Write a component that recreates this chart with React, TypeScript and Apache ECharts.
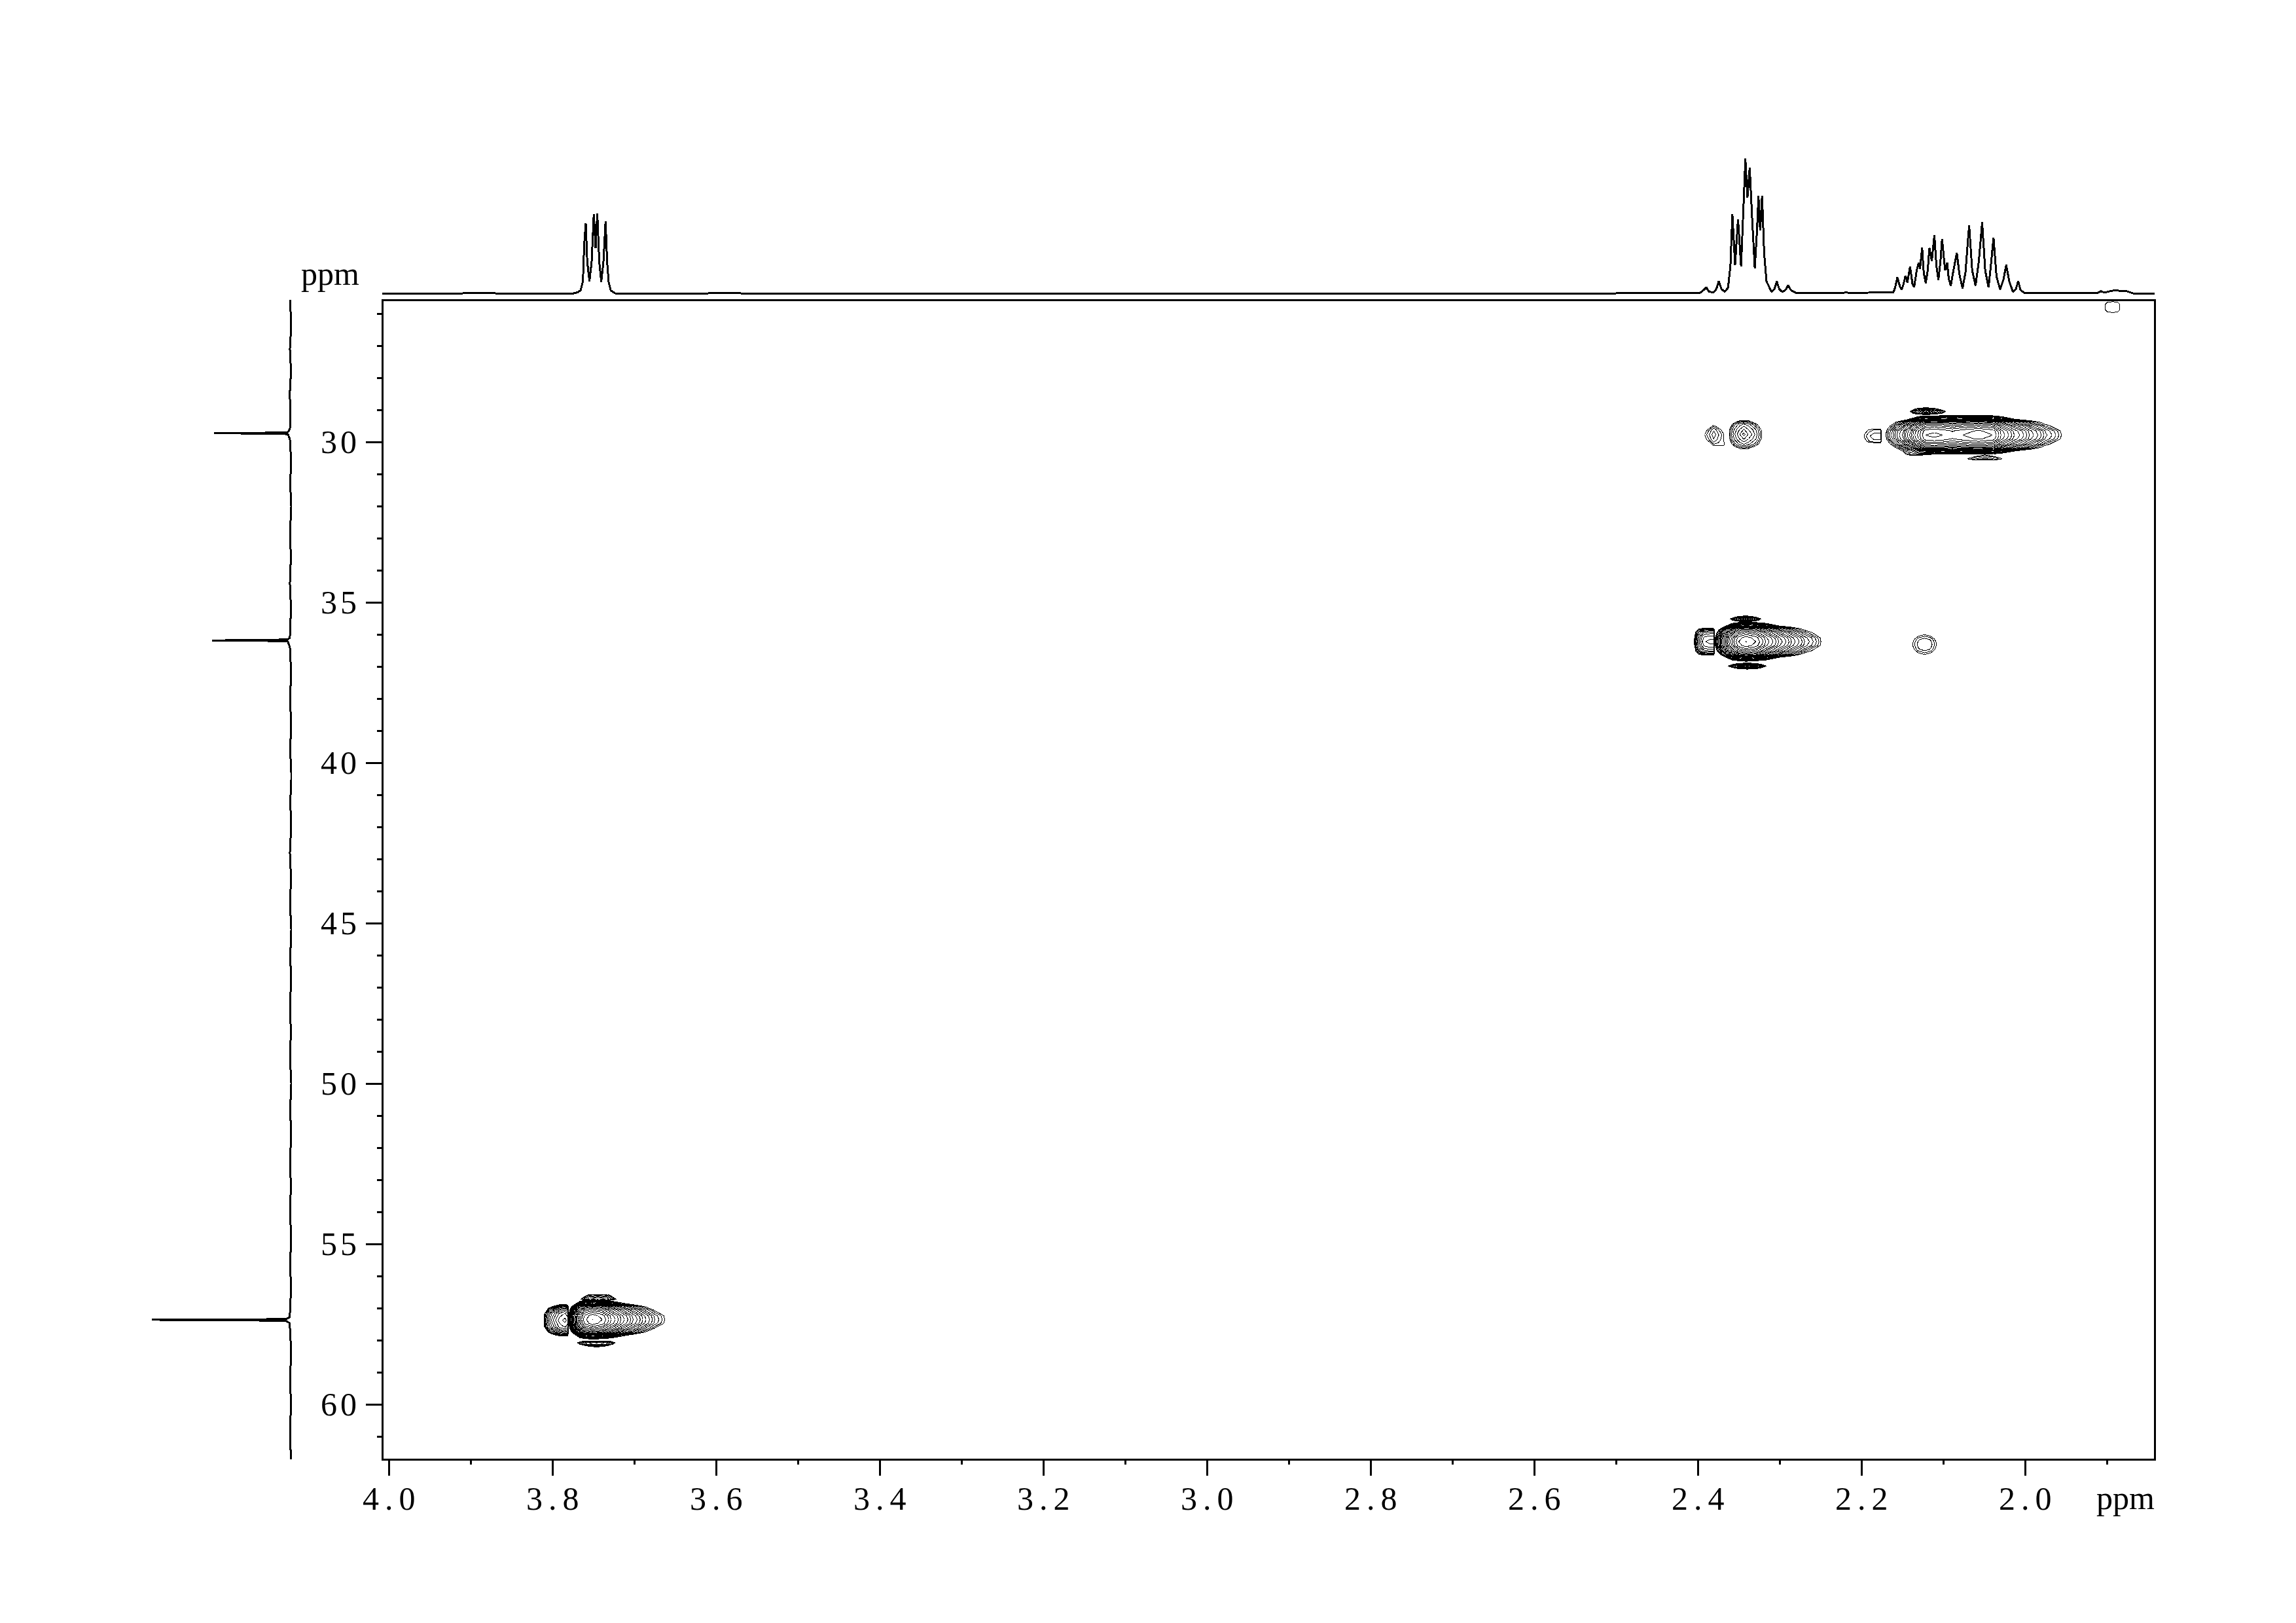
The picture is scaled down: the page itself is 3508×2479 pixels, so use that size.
import React, { useEffect, useRef } from "react";
import * as echarts from "echarts";

// Axis ticks, ppm
const f2MajorTicks = [4.0, 3.8, 3.6, 3.4, 3.2, 3.0, 2.8, 2.6, 2.4, 2.2, 2.0];
const f2MinorTicks = [3.9, 3.7, 3.5, 3.3, 3.1, 2.9, 2.7, 2.5, 2.3, 2.1, 1.9];
const f1MajorTicks = [30, 35, 40, 45, 50, 55, 60];
const f1MinorTicks = [26, 27, 28, 29, 31, 32, 33, 34, 36, 37, 38, 39, 41, 42, 43, 44, 46, 47, 48, 49, 51, 52, 53, 54, 56, 57, 58, 59, 61];

// 1H projection on top: [ppm, relative intensity]
const protonTrace = [
  [4.0082, 0], [3.91, 0], [3.9, 0.4], [3.89, 0.1], [3.88, 0.3], [3.87, 0],
  [3.7741, 0], [3.7688, 0.8], [3.7656, 2.4], [3.7629, 8.9], [3.7613, 36.5], [3.7594, 51.9], [3.7576, 23.5], [3.7549, 8.9],
  [3.7522, 23.5], [3.7496, 58.8], [3.7474, 33.5], [3.7453, 59.2], [3.7429, 23.5], [3.7405, 8.4], [3.7378, 23.5],
  [3.7352, 53.5], [3.7333, 23.5], [3.7314, 8.1], [3.7288, 2.1], [3.7234, 0],
  [3.61, 0], [3.6, 0.4], [3.59, 0.2], [3.58, 0.4], [3.57, 0], [2.5, 0], [2.49, 0.3], [2.47, 0.2], [2.45, 0.4], [2.43, 0.1],
  [2.3999, 0], [2.3959, 0.8], [2.3897, 4.4], [2.3865, 1.1], [2.3807, 0.8], [2.3775, 3.2], [2.3746, 8.9], [2.3713, 3.2], [2.3673, 1.1],
  [2.3632, 4.1], [2.3603, 20.3], [2.3579, 58.8], [2.3546, 21.1], [2.351, 55.1], [2.3473, 19.9], [2.3449, 55.9], [2.342, 100],
  [2.3395, 70.8], [2.3367, 93.5], [2.3338, 55.9], [2.3305, 18.6], [2.3277, 47.8], [2.326, 72.4], [2.324, 46.5], [2.3216, 72.4],
  [2.3191, 30], [2.3162, 8.9], [2.3101, 1.1], [2.3065, 3.2], [2.3036, 8.9], [2.3007, 3.2], [2.2971, 1.1], [2.293, 2.4], [2.2897, 6],
  [2.2865, 2.4], [2.2795, 0], [2.24, 0.2], [2.22, 0.5], [2.2, 0.4], [2.18, 0.6],
  [2.1612, 0.5], [2.1587, 4.9], [2.1563, 11.8], [2.153, 4.9], [2.151, 2.8], [2.1485, 7.3], [2.1464, 13.1], [2.144, 8.1], [2.1407, 19.9],
  [2.1379, 7.3], [2.1358, 4.4], [2.1326, 17], [2.1301, 22.7], [2.1285, 18.3], [2.126, 33.9], [2.124, 15.4], [2.1216, 7.6], [2.1191, 17],
  [2.1171, 33.7], [2.1142, 23.8], [2.111, 43.3], [2.1085, 20.3], [2.1061, 10], [2.1036, 23.5], [2.1016, 40.5], [2.0979, 17], [2.0954, 22.7],
  [2.0934, 10.5], [2.0909, 5.7], [2.0877, 17], [2.0836, 30], [2.0803, 13.8], [2.0766, 3.7], [2.073, 15.4], [2.0685, 50.7], [2.0648, 17],
  [2.0607, 5.7], [2.0567, 23.5], [2.0526, 52.7], [2.0489, 17], [2.0448, 4.4], [2.0415, 23.5], [2.0387, 41.3], [2.035, 12.2], [2.0306, 2.8],
  [2.0265, 10.5], [2.0232, 21.1], [2.0195, 8.9], [2.015, 1.1], [2.0114, 3.2], [2.0085, 8.9], [2.0057, 2.4], [1.9999, 0], [1.97, 0.1], [1.95, 0.3],
  [1.9122, 0.2], [1.9073, 1.6], [1.9032, 0.5], [1.8959, 1.6], [1.8893, 2.4], [1.8828, 1.5], [1.8755, 1.5], [1.8681, 0], [1.8418, 0],
];

// 13C projection on the left: [ppm, relative intensity]
const carbonTrace = [
  [25.57, 0.3], [26.4, -0.4], [27.1, 0.5], [27.8, -0.3], [28.5, 0.6], [29.1, 0.1], [29.6, 0.5], [29.69, 2], [29.71, 20], [29.72, 55.2], [29.735, 20], [29.75, 2],
  [29.9, 0.5], [30.6, -0.4], [31.3, 0.3], [32, -0.5], [32.8, 0.4], [33.6, -0.2], [34.4, 0.5], [35.2, -0.3], [35.9, 0.4], [36.1, 0.5], [36.15, 2], [36.17, 20], [36.18, 56.6], [36.195, 20], [36.21, 2],
  [36.4, 0.5], [37.2, -0.4], [38, 0.4], [38.8, -0.4], [39.6, 0.3], [40.4, -0.6], [41.2, 0.2], [42, -0.4], [42.8, 0.5], [43.6, -0.3], [44.4, 0.4], [45.2, -0.5],
  [46, 0.2], [46.8, -0.3], [47.6, 0.4], [48.4, -0.2], [49.2, 0.4], [50, -0.5], [50.8, 0.3], [51.6, -0.4], [52.4, 0.4], [53.2, -0.2], [54, 0.4], [54.8, -0.4],
  [55.6, 0.3], [56.4, -0.3], [57.1, 0.4], [57.28, 0.8], [57.33, 3], [57.35, 30], [57.36, 100], [57.375, 30], [57.4, 3], [57.46, 0.8], [57.7, 0.3], [58.4, -0.4], [59.2, 0.4], [60, -0.3], [60.8, 0.4], [61.71, -0.2],
];

// Contour levels of the 2D plot
const contourLevels = [1, 1.25, 1.56, 1.95, 2.44, 3.05, 3.81, 4.77, 5.96, 7.45, 9.31, 11.6, 14.6, 18.2, 22.7, 28.4, 35.5, 44.4, 55.5, 69.4, 86.7, 108];

// Cross peak at 2.06 / 29.8
const peakAF2 = [2.174, 2.169, 2.161, 2.149, 2.14, 2.13, 2.122, 2.111, 2.101, 2.089, 2.076, 2.057, 2.039, 2.029, 2.014, 1.994, 1.975, 1.956, 1.95];
const peakAF1 = [29.1, 29.18, 29.29, 29.38, 29.49, 29.65, 29.78, 29.9, 30.06, 30.17, 30.27, 30.38, 30.46];
const peakAZ = [
  [0, 0, 0, 0, 0, 0, 0, 0, 0, 0, 0, 0, 0, 0, 0, 0, 0, 0, 0],
  [0, 0.01, 0.03, 0.09, 0.22, 0.55, 0.94, 1.01, 1.05, 1.05, 1.1, 1.1, 1.05, 0.6, 0.21, 0.08, 0.03, 0.01, 0],
  [0.02, 0.07, 0.18, 0.48, 1.2, 3, 5.1, 5.5, 5.1, 4.5, 5.2, 6, 5.1, 2.5, 1.1, 0.42, 0.16, 0.06, 0.02],
  [0.07, 0.29, 0.72, 1.9, 4.8, 12, 21, 22, 21, 18, 21, 24, 20, 10, 4.6, 1.7, 0.62, 0.24, 0.07],
  [0.14, 0.56, 1.4, 3.8, 9.4, 24, 41, 43, 41, 36, 41, 47, 40, 20, 8.9, 3.3, 1.2, 0.48, 0.14],
  [0.27, 1.1, 2.7, 7.2, 18, 45, 78, 83, 78, 68, 78, 90, 77, 38, 17, 6.3, 2.3, 0.92, 0.27],
  [0.3, 1.2, 3, 8, 20, 50, 87, 92, 87, 76, 87, 100, 86, 42, 19, 7, 2.6, 1.02, 0.3],
  [0.27, 1.1, 2.7, 7.2, 18, 45, 78, 83, 78, 68, 78, 90, 77, 38, 17, 6.3, 2.3, 0.92, 0.27],
  [0.14, 0.56, 1.4, 3.8, 9.4, 24, 41, 43, 41, 36, 41, 47, 40, 20, 8.9, 3.3, 1.2, 0.48, 0.14],
  [0.07, 0.29, 0.72, 1.9, 4.8, 12, 21, 22, 21, 18, 21, 24, 20, 10, 4.6, 1.7, 0.62, 0.24, 0.07],
  [0.02, 0.07, 0.18, 1.1, 2.4, 4, 5.1, 5.5, 5.1, 4.5, 5.2, 6, 5.1, 2.5, 1.1, 0.42, 0.16, 0.06, 0.02],
  [0, 0.01, 0.03, 0.6, 1.6, 1.8, 1.2, 0.95, 0.7, 0.6, 0.6, 0.5, 0.5, 0.4, 0.21, 0.08, 0.03, 0.01, 0],
  [0, 0, 0, 0, 0, 0, 0, 0, 0, 0, 0, 0, 0, 0, 0, 0, 0, 0, 0],
];

const lobeATopF2 = [2.1454, 2.1407, 2.1318, 2.1213, 2.1104, 2.0969, 2.093];
const lobeATopF1 = [28.87, 28.926, 28.98, 29.04, 29.1, 29.14, 29.2];
const lobeATopZ = [
  [0, 0, 0, 0, 0, 0, 0],
  [0, 0, 0.5, 1.05, 0.5, 0, 0],
  [0, 0.3, 1.6, 3, 1.6, 0.3, 0],
  [0, 1, 3, 6.2, 3, 1, 0],
  [0, 0.5, 1.9, 3.5, 1.9, 0.5, 0],
  [0, 0, 0.7, 1.05, 0.7, 0, 0],
  [0, 0, 0, 0, 0, 0, 0],
];

const lobeABottomF2 = [2.0756, 2.0705, 2.06, 2.0492, 2.0387, 2.0279, 2.0232];
const lobeABottomF1 = [30.35, 30.4, 30.47, 30.52, 30.56, 30.59];
const lobeABottomZ = [
  [0, 0, 0, 0, 0, 0, 0],
  [0, 0, 0.4, 1.05, 0.4, 0, 0],
  [0, 0.6, 1.3, 1.5, 1.3, 0.6, 0],
  [0, 1, 1.6, 2.1, 1.6, 1, 0],
  [0, 0.1, 1.1, 1.2, 1.1, 0.1, 0],
  [0, 0, 0, 0, 0, 0, 0],
];

const sideALeftF2 = [2.2016, 2.1965, 2.1911, 2.1849, 2.1779, 2.1764, 2.1752];
const sideALeftF1 = [29.48, 29.63, 29.81, 29.98, 30.1];
const sideALeftZ = [
  [0, 0, 0, 0, 0, 0, 0],
  [0, 0.7, 1.1, 1.3, 1.3, 1.3, 0],
  [0, 1.1, 1.5, 1.8, 1.8, 1.8, 0],
  [0, 0.75, 1.2, 1.45, 1.45, 1.45, 0],
  [0, 0, 0, 0, 0, 0, 0],
];

const dotF2 = [2.055, 2.0531, 2.051];
const dotF1 = [29.05, 29.06, 29.07];
const dotZ = [
  [0, 0, 0],
  [0, 1.02, 0],
  [0, 0, 0],
];

// Cross peaks at 2.38 and 2.34 / 29.8
const sideB1F2 = [2.3955, 2.3916, 2.3858, 2.3807, 2.3749, 2.3683, 2.3644];
const sideB1F1 = [29.38, 29.48, 29.62, 29.77, 29.93, 30.1, 30.17];
const sideB1Z = [
  [0, 0, 0, 0, 0, 0, 0],
  [0, 0, 0.5, 1.05, 0.5, 0, 0],
  [0, 0.7, 1.3, 1.9, 1.3, 0.7, 0],
  [0, 1.02, 1.6, 2.2, 1.6, 1.02, 0],
  [0, 0.8, 1.3, 1.9, 1.4, 1.02, 0],
  [0, 0, 0.5, 1.1, 1.1, 1.05, 0],
  [0, 0, 0, 0, 0, 0, 0],
];

const sideB2F2 = [2.3652, 2.3613, 2.3555, 2.3489, 2.3439, 2.3385, 2.3295, 2.3226, 2.3187];
const sideB2F1 = [29.246, 29.33, 29.45, 29.61, 29.756, 29.9, 30.06, 30.2, 30.27];
const sideB2Z = [
  [0, 0, 0, 0, 0, 0, 0, 0, 0],
  [0, 0, 0.4, 1, 1.1, 1, 0.4, 0, 0],
  [0, 0.5, 1.4, 2.2, 2.6, 2.2, 1.2, 0.5, 0],
  [0, 1, 2, 3.1, 3.9, 3.1, 2, 1, 0],
  [0, 1.05, 2.3, 3.8, 5.2, 3.8, 2.3, 1.05, 0],
  [0, 1, 2, 3.1, 3.9, 3.1, 2, 1, 0],
  [0, 0.6, 1.4, 2.1, 2.5, 2.1, 1.4, 0.6, 0],
  [0, 0, 0.5, 1, 1.1, 1, 0.5, 0, 0],
  [0, 0, 0, 0, 0, 0, 0, 0, 0],
];

// Cross peak at 2.34 / 36.2
const peakCF2 = [2.3839, 2.3788, 2.3733, 2.3664, 2.3586, 2.35, 2.3412, 2.3295, 2.3160, 2.3005, 2.285, 2.2694, 2.2501, 2.2442];
const peakCF1 = [35.54, 35.62, 35.73, 35.82, 35.93, 36.1, 36.22, 36.34, 36.5, 36.61, 36.71, 36.82, 36.9];
const peakCZ = [
  [0, 0, 0, 0, 0, 0, 0, 0, 0, 0, 0, 0, 0, 0],
  [0, 0.01, 0.04, 0.15, 0.44, 0.96, 1.2, 0.96, 0.44, 0.19, 0.08, 0.03, 0.01, 0],
  [0.02, 0.06, 0.24, 0.84, 2.4, 5.2, 6.5, 5.2, 2.4, 1, 0.42, 0.18, 0.06, 0.02],
  [0.07, 0.25, 0.96, 3.4, 9.6, 21, 26, 21, 9.6, 4.1, 1.7, 0.72, 0.25, 0.07],
  [0.14, 0.49, 1.9, 6.6, 19, 41, 51, 41, 19, 8, 3.3, 1.4, 0.49, 0.14],
  [0.27, 0.95, 3.6, 13, 36, 78, 98, 78, 36, 15, 6.3, 2.7, 0.95, 0.27],
  [0.3, 1.05, 4, 14, 40, 87, 109, 87, 40, 17, 7, 3, 1.05, 0.3],
  [0.27, 0.95, 3.6, 13, 36, 78, 98, 78, 36, 15, 6.3, 2.7, 0.95, 0.27],
  [0.14, 0.49, 1.9, 6.6, 19, 41, 51, 41, 19, 8, 3.3, 1.4, 0.49, 0.14],
  [0.07, 0.25, 0.96, 3.4, 9.6, 21, 26, 21, 9.6, 4.1, 1.7, 0.72, 0.25, 0.07],
  [0.02, 0.06, 0.24, 0.84, 2.4, 5.2, 6.5, 5.2, 2.4, 1, 0.42, 0.18, 0.06, 0.02],
  [0, 0.01, 0.04, 0.15, 0.44, 0.96, 1.2, 0.96, 0.44, 0.19, 0.08, 0.03, 0.01, 0],
  [0, 0, 0, 0, 0, 0, 0, 0, 0, 0, 0, 0, 0, 0],
];

const lobeCTopF2 = [2.3652, 2.3606, 2.3509, 2.3419, 2.333, 2.3229, 2.3179];
const lobeCTopF1 = [35.368, 35.416, 35.464, 35.511, 35.559, 35.593, 35.64];
const lobeCTopZ = [
  [0, 0, 0, 0, 0, 0, 0],
  [0, 0, 0.5, 1.05, 0.5, 0, 0],
  [0, 0.3, 1.6, 3, 1.6, 0.3, 0],
  [0, 1, 3, 6.2, 3, 1, 0],
  [0, 0.5, 1.9, 3.5, 1.9, 0.5, 0],
  [0, 0, 0.7, 1.05, 0.7, 0, 0],
  [0, 0, 0, 0, 0, 0, 0],
];

const lobeCBottomF2 = [2.3679, 2.3633, 2.3516, 2.3396, 2.3276, 2.316, 2.3113];
const lobeCBottomF1 = [36.84, 36.885, 36.93, 36.98, 37.03, 37.075, 37.12];
const lobeCBottomZ = [
  [0, 0, 0, 0, 0, 0, 0],
  [0, 0, 0.5, 1.05, 0.5, 0, 0],
  [0, 0.3, 1.7, 3, 1.7, 0.3, 0],
  [0, 1, 3.2, 6.5, 3.2, 1, 0],
  [0, 0.3, 1.7, 3.2, 1.7, 0.3, 0],
  [0, 0, 0.6, 1.05, 0.6, 0, 0],
  [0, 0, 0, 0, 0, 0, 0],
];

const sideCLeftF2 = [2.409, 2.404, 2.3993, 2.3927, 2.3858, 2.3807, 2.3792];
const sideCLeftF1 = [35.73, 35.8, 35.91, 36.08, 36.22, 36.35, 36.52, 36.64, 36.71];
const sideCLeftZ = [
  [0, 0, 0, 0, 0, 0, 0],
  [0, 0, 0.6, 1.05, 1.1, 1.1, 0],
  [0, 0.6, 2, 4, 4.5, 4.5, 0],
  [0, 1, 3.5, 7.5, 8.5, 8.5, 0],
  [0, 1.2, 4, 9, 10, 10, 0],
  [0, 1, 3.5, 7.5, 8.5, 8.5, 0],
  [0, 0.6, 2, 4, 4.5, 4.5, 0],
  [0, 0, 0.6, 1.05, 1.1, 1.1, 0],
  [0, 0, 0, 0, 0, 0, 0],
];

const sideCRightF2 = [2.1423, 2.1376, 2.1306, 2.1229, 2.1151, 2.1085, 2.1042];
const sideCRightF1 = [35.93, 36.01, 36.15, 36.3, 36.46, 36.61, 36.68];
const sideCRightZ = [
  [0, 0, 0, 0, 0, 0, 0],
  [0, 0, 0.8, 1.05, 0.8, 0, 0],
  [0, 0.8, 1.5, 1.75, 1.5, 0.8, 0],
  [0, 1.05, 1.7, 1.9, 1.7, 1.05, 0],
  [0, 0.8, 1.5, 1.75, 1.5, 0.8, 0],
  [0, 0, 0.8, 1.05, 0.8, 0, 0],
  [0, 0, 0, 0, 0, 0, 0],
];

// Cross peak at 3.75 / 57.4
const peakDF2 = [3.7834, 3.7802, 3.7768, 3.772, 3.7666, 3.7608, 3.7514, 3.7394, 3.7288, 3.7154, 3.7021, 3.6888, 3.6754, 3.6634, 3.6594];
const peakDF1 = [56.67, 56.75, 56.86, 56.95, 57.06, 57.23, 57.35, 57.47, 57.63, 57.74, 57.84, 57.95, 58.03];
const peakDZ = [
  [0, 0, 0, 0, 0, 0, 0, 0, 0, 0, 0, 0, 0, 0, 0],
  [0, 0.01, 0.04, 0.15, 0.44, 0.88, 1.2, 0.96, 0.51, 0.23, 0.11, 0.05, 0.02, 0.01, 0],
  [0.02, 0.06, 0.24, 0.84, 2.4, 4.8, 6.5, 5.2, 2.8, 1.3, 0.58, 0.26, 0.12, 0.06, 0.02],
  [0.07, 0.25, 0.96, 3.4, 9.6, 19, 26, 21, 11, 5, 2.3, 1.1, 0.48, 0.25, 0.07],
  [0.14, 0.49, 1.9, 6.6, 19, 38, 51, 41, 22, 9.9, 4.6, 2.1, 0.94, 0.49, 0.14],
  [0.27, 0.95, 3.6, 13, 36, 72, 98, 78, 41, 19, 8.7, 4, 1.8, 0.95, 0.27],
  [0.3, 1.05, 4, 14, 40, 80, 109, 87, 46, 21, 9.7, 4.4, 2, 1.05, 0.3],
  [0.27, 0.95, 3.6, 13, 36, 72, 98, 78, 41, 19, 8.7, 4, 1.8, 0.95, 0.27],
  [0.14, 0.49, 1.9, 6.6, 19, 38, 51, 41, 22, 9.9, 4.6, 2.1, 0.94, 0.49, 0.14],
  [0.07, 0.25, 0.96, 3.4, 9.6, 19, 26, 21, 11, 5, 2.3, 1.1, 0.48, 0.25, 0.07],
  [0.02, 0.06, 0.24, 0.84, 2.4, 4.8, 6.5, 5.2, 2.8, 1.3, 0.58, 0.26, 0.12, 0.06, 0.02],
  [0, 0.01, 0.04, 0.15, 0.44, 0.88, 1.2, 0.96, 0.51, 0.23, 0.11, 0.05, 0.02, 0.01, 0],
  [0, 0, 0, 0, 0, 0, 0, 0, 0, 0, 0, 0, 0, 0, 0],
];

const lobeDTopF2 = [3.7688, 3.7656, 3.7554, 3.7448, 3.7328, 3.7221, 3.7189];
const lobeDTopF1 = [56.52, 56.57, 56.63, 56.68, 56.72, 56.755, 56.8];
const lobeDTopZ = [
  [0, 0, 0, 0, 0, 0, 0],
  [0, 0, 1.05, 1.1, 1.05, 0, 0],
  [0, 0.3, 1.7, 2.2, 1.7, 0.3, 0],
  [0, 0.6, 2.4, 3.4, 2.4, 0.6, 0],
  [0, 1, 2.8, 3.9, 2.8, 1, 0],
  [0, 0.4, 1.2, 1.6, 1.2, 0.4, 0],
  [0, 0, 0, 0, 0, 0, 0],
];

const lobeDBottomF2 = [3.7736, 3.7701, 3.7581, 3.7461, 3.7341, 3.7234, 3.7202];
const lobeDBottomF1 = [57.97, 58.02, 58.07, 58.116, 58.16, 58.205, 58.245];
const lobeDBottomZ = [
  [0, 0, 0, 0, 0, 0, 0],
  [0, 0.9, 1.05, 1.1, 1.05, 0.9, 0],
  [0, 1, 3.5, 5, 3.5, 1, 0],
  [0, 0.3, 3, 4.5, 3, 0.3, 0],
  [0, 0, 1.3, 2.2, 1.3, 0, 0],
  [0, 0, 0.3, 1.05, 0.3, 0, 0],
  [0, 0, 0, 0, 0, 0, 0],
];

const sideDLeftF2 = [3.8128, 3.8101, 3.8048, 3.7981, 3.7914, 3.7848, 3.7813, 3.7802];
const sideDLeftF1 = [56.817, 56.885, 57.0, 57.17, 57.375, 57.58, 57.75, 57.864, 57.93];
const sideDLeftZ = [
  [0, 0, 0, 0, 0, 0, 0, 0],
  [0, 0, 0, 0.3, 0.9, 1.05, 0.6, 0],
  [0, 0.3, 1.05, 2.2, 4, 5, 4, 0],
  [0, 0.9, 3, 6, 10, 12, 10, 0],
  [0, 1.2, 4, 8, 13, 16, 13, 0],
  [0, 0.9, 3, 6, 10, 12, 10, 0],
  [0, 0.3, 1.05, 2.2, 4, 5, 4, 0],
  [0, 0, 0, 0.3, 0.9, 1.05, 0.6, 0],
  [0, 0, 0, 0, 0, 0, 0, 0],
];

// Lone contour in the top right corner
const cornerF2 = [1.905, 1.9021, 1.893, 1.8844, 1.881];
const cornerF1 = [25.58, 25.63, 25.79, 25.95, 26.0];
const cornerZ = [
  [0, 0, 0, 0, 0],
  [0, 0.95, 1.1, 0.95, 0],
  [0, 1.05, 1.2, 1.05, 0],
  [0, 0.95, 1.1, 0.95, 0],
  [0, 0, 0, 0, 0],
];

const contourGrids = [
  [peakAF2, peakAF1, peakAZ], [lobeATopF2, lobeATopF1, lobeATopZ], [lobeABottomF2, lobeABottomF1, lobeABottomZ],
  [sideALeftF2, sideALeftF1, sideALeftZ], [dotF2, dotF1, dotZ], [sideB1F2, sideB1F1, sideB1Z], [sideB2F2, sideB2F1, sideB2Z],
  [peakCF2, peakCF1, peakCZ], [lobeCTopF2, lobeCTopF1, lobeCTopZ], [lobeCBottomF2, lobeCBottomF1, lobeCBottomZ],
  [sideCLeftF2, sideCLeftF1, sideCLeftZ], [sideCRightF2, sideCRightF1, sideCRightZ],
  [peakDF2, peakDF1, peakDZ], [lobeDTopF2, lobeDTopF1, lobeDTopZ], [lobeDBottomF2, lobeDBottomF1, lobeDBottomZ], [sideDLeftF2, sideDLeftF1, sideDLeftZ],
  [cornerF2, cornerF1, cornerZ],
] as [number[], number[], number[][]][];

// Marching squares over an intensity table: contour lines, gaps marked with NaN.
function contourLines(xs: number[], ys: number[], z: number[][], levels: number[]) {
  const out: number[][] = [];
  const seg = (a: number[], b: number[]) => {
    out.push(a, b, [NaN, NaN]);
  };
  for (const L of levels) {
    for (let i = 0; i + 1 < ys.length; i++) {
      for (let j = 0; j + 1 < xs.length; j++) {
        const a = z[i][j], b = z[i][j + 1], c = z[i + 1][j + 1], d = z[i + 1][j];
        const code = (a >= L ? 8 : 0) | (b >= L ? 4 : 0) | (c >= L ? 2 : 0) | (d >= L ? 1 : 0);
        if (code === 0 || code === 15) continue;
        const top = () => [xs[j] + ((L - a) / (b - a)) * (xs[j + 1] - xs[j]), ys[i]];
        const bottom = () => [xs[j] + ((L - d) / (c - d)) * (xs[j + 1] - xs[j]), ys[i + 1]];
        const left = () => [xs[j], ys[i] + ((L - a) / (d - a)) * (ys[i + 1] - ys[i])];
        const right = () => [xs[j + 1], ys[i] + ((L - b) / (c - b)) * (ys[i + 1] - ys[i])];
        switch (code) {
          case 1: case 14: seg(left(), bottom()); break;
          case 2: case 13: seg(bottom(), right()); break;
          case 3: case 12: seg(left(), right()); break;
          case 4: case 11: seg(top(), right()); break;
          case 6: case 9: seg(top(), bottom()); break;
          case 7: case 8: seg(left(), top()); break;
          case 5: seg(left(), top()); seg(bottom(), right()); break;
          case 10: seg(left(), bottom()); seg(top(), right()); break;
        }
      }
    }
  }
  return out;
}

const FONT = '"Liberation Serif", serif';
const F2_MIN = 1.8418, F2_MAX = 4.0082, F1_MIN = 25.565, F1_MAX = 61.708;

export default function App() {
  const ref = useRef<HTMLDivElement>(null);
  useEffect(() => {
    const chart = echarts.init(ref.current!, undefined, { renderer: "svg" });
    const contours: number[][] = [];
    for (const [xs, ys, z] of contourGrids) contours.push(...contourLines(xs, ys, z, contourLevels));
    const f2Common = { type: "value", gridIndex: 0, min: F2_MIN, max: F2_MAX, inverse: true, position: "bottom", axisLine: { show: false }, splitLine: { show: false } };
    const f1Common = { type: "value", gridIndex: 0, min: F1_MIN, max: F1_MAX, inverse: true, position: "left", axisLine: { show: false }, splitLine: { show: false } };
    chart.setOption({
      animation: false,
      backgroundColor: "#fff",
      tooltip: { show: false },
      grid: [
        { left: 584, top: 458, width: 2708, height: 1771, show: true, borderColor: "#000", borderWidth: 3, backgroundColor: "transparent" },
        { left: 584, top: 242.3, width: 2708, height: 205.7 },
        { left: 232, top: 458, width: 212, height: 1771 },
      ],
      xAxis: [
        { ...f2Common, axisTick: { show: true, length: 25, inside: false, customValues: f2MajorTicks, lineStyle: { color: "#000", width: 3 } },
          axisLabel: { show: true, customValues: f2MajorTicks, margin: 35, padding: [0, 0, 0, 9], color: "#000", fontFamily: FONT, fontSize: 50, formatter: (v: number) => v.toFixed(1) } },
        { ...f2Common, axisTick: { show: true, length: 8, customValues: f2MinorTicks, lineStyle: { color: "#000", width: 3 } }, axisLabel: { show: false } },
        { type: "value", gridIndex: 1, min: F2_MIN, max: F2_MAX, inverse: true, show: false },
        { type: "value", gridIndex: 2, min: 0, max: 100, inverse: true, show: false },
      ],
      yAxis: [
        { ...f1Common, axisTick: { show: true, length: 25, customValues: f1MajorTicks, lineStyle: { color: "#000", width: 3 } },
          axisLabel: { show: true, customValues: f1MajorTicks, margin: 34, color: "#000", fontFamily: FONT, fontSize: 50, formatter: (v: number) => String(v) } },
        { ...f1Common, axisTick: { show: true, length: 8, customValues: f1MinorTicks, lineStyle: { color: "#000", width: 3 } }, axisLabel: { show: false } },
        { type: "value", gridIndex: 1, min: 0, max: 100, show: false },
        { type: "value", gridIndex: 2, min: F1_MIN, max: F1_MAX, inverse: true, show: false },
      ],
      series: [
        { type: "line", name: "contours", xAxisIndex: 0, yAxisIndex: 0, data: contours, showSymbol: false, symbol: "none", silent: true, connectNulls: false, lineStyle: { color: "#000", width: 1 } },
        { type: "line", name: "1H", xAxisIndex: 2, yAxisIndex: 2, data: protonTrace, showSymbol: false, symbol: "none", silent: true, clip: false, lineStyle: { color: "#000", width: 3 } },
        { type: "line", name: "13C", xAxisIndex: 3, yAxisIndex: 3, data: carbonTrace.map(([ppm, v]) => [v, ppm]), showSymbol: false, symbol: "none", silent: true, clip: false, lineStyle: { color: "#000", width: 3 } },
      ],
      graphic: [
        { type: "text", x: 460, y: 418, silent: true, style: { text: "ppm", font: `50px ${FONT}`, fill: "#000", align: "left", verticalAlign: "middle" } },
        { type: "text", x: 3203, y: 2288, silent: true, style: { text: "ppm", font: `50px ${FONT}`, fill: "#000", align: "left", verticalAlign: "middle" } },
      ],
    });
    ref.current!.querySelectorAll("text").forEach((t) => {
      const s = t.textContent || "";
      if (s.includes(".")) t.style.letterSpacing = "9px";
      else if (/^\d+$/.test(s)) t.style.letterSpacing = "5px";
    });
    return () => chart.dispose();
  }, []);
  return (
    <>
      <style>{`#nmr svg path, #nmr svg rect { shape-rendering: crispEdges; } body { margin: 0; overflow: hidden; }`}</style>
      <div id="nmr" ref={ref} style={{ position: "absolute", left: 0, top: 0, width: 3508, height: 2479, background: "#fff" }} />
    </>
  );
}
